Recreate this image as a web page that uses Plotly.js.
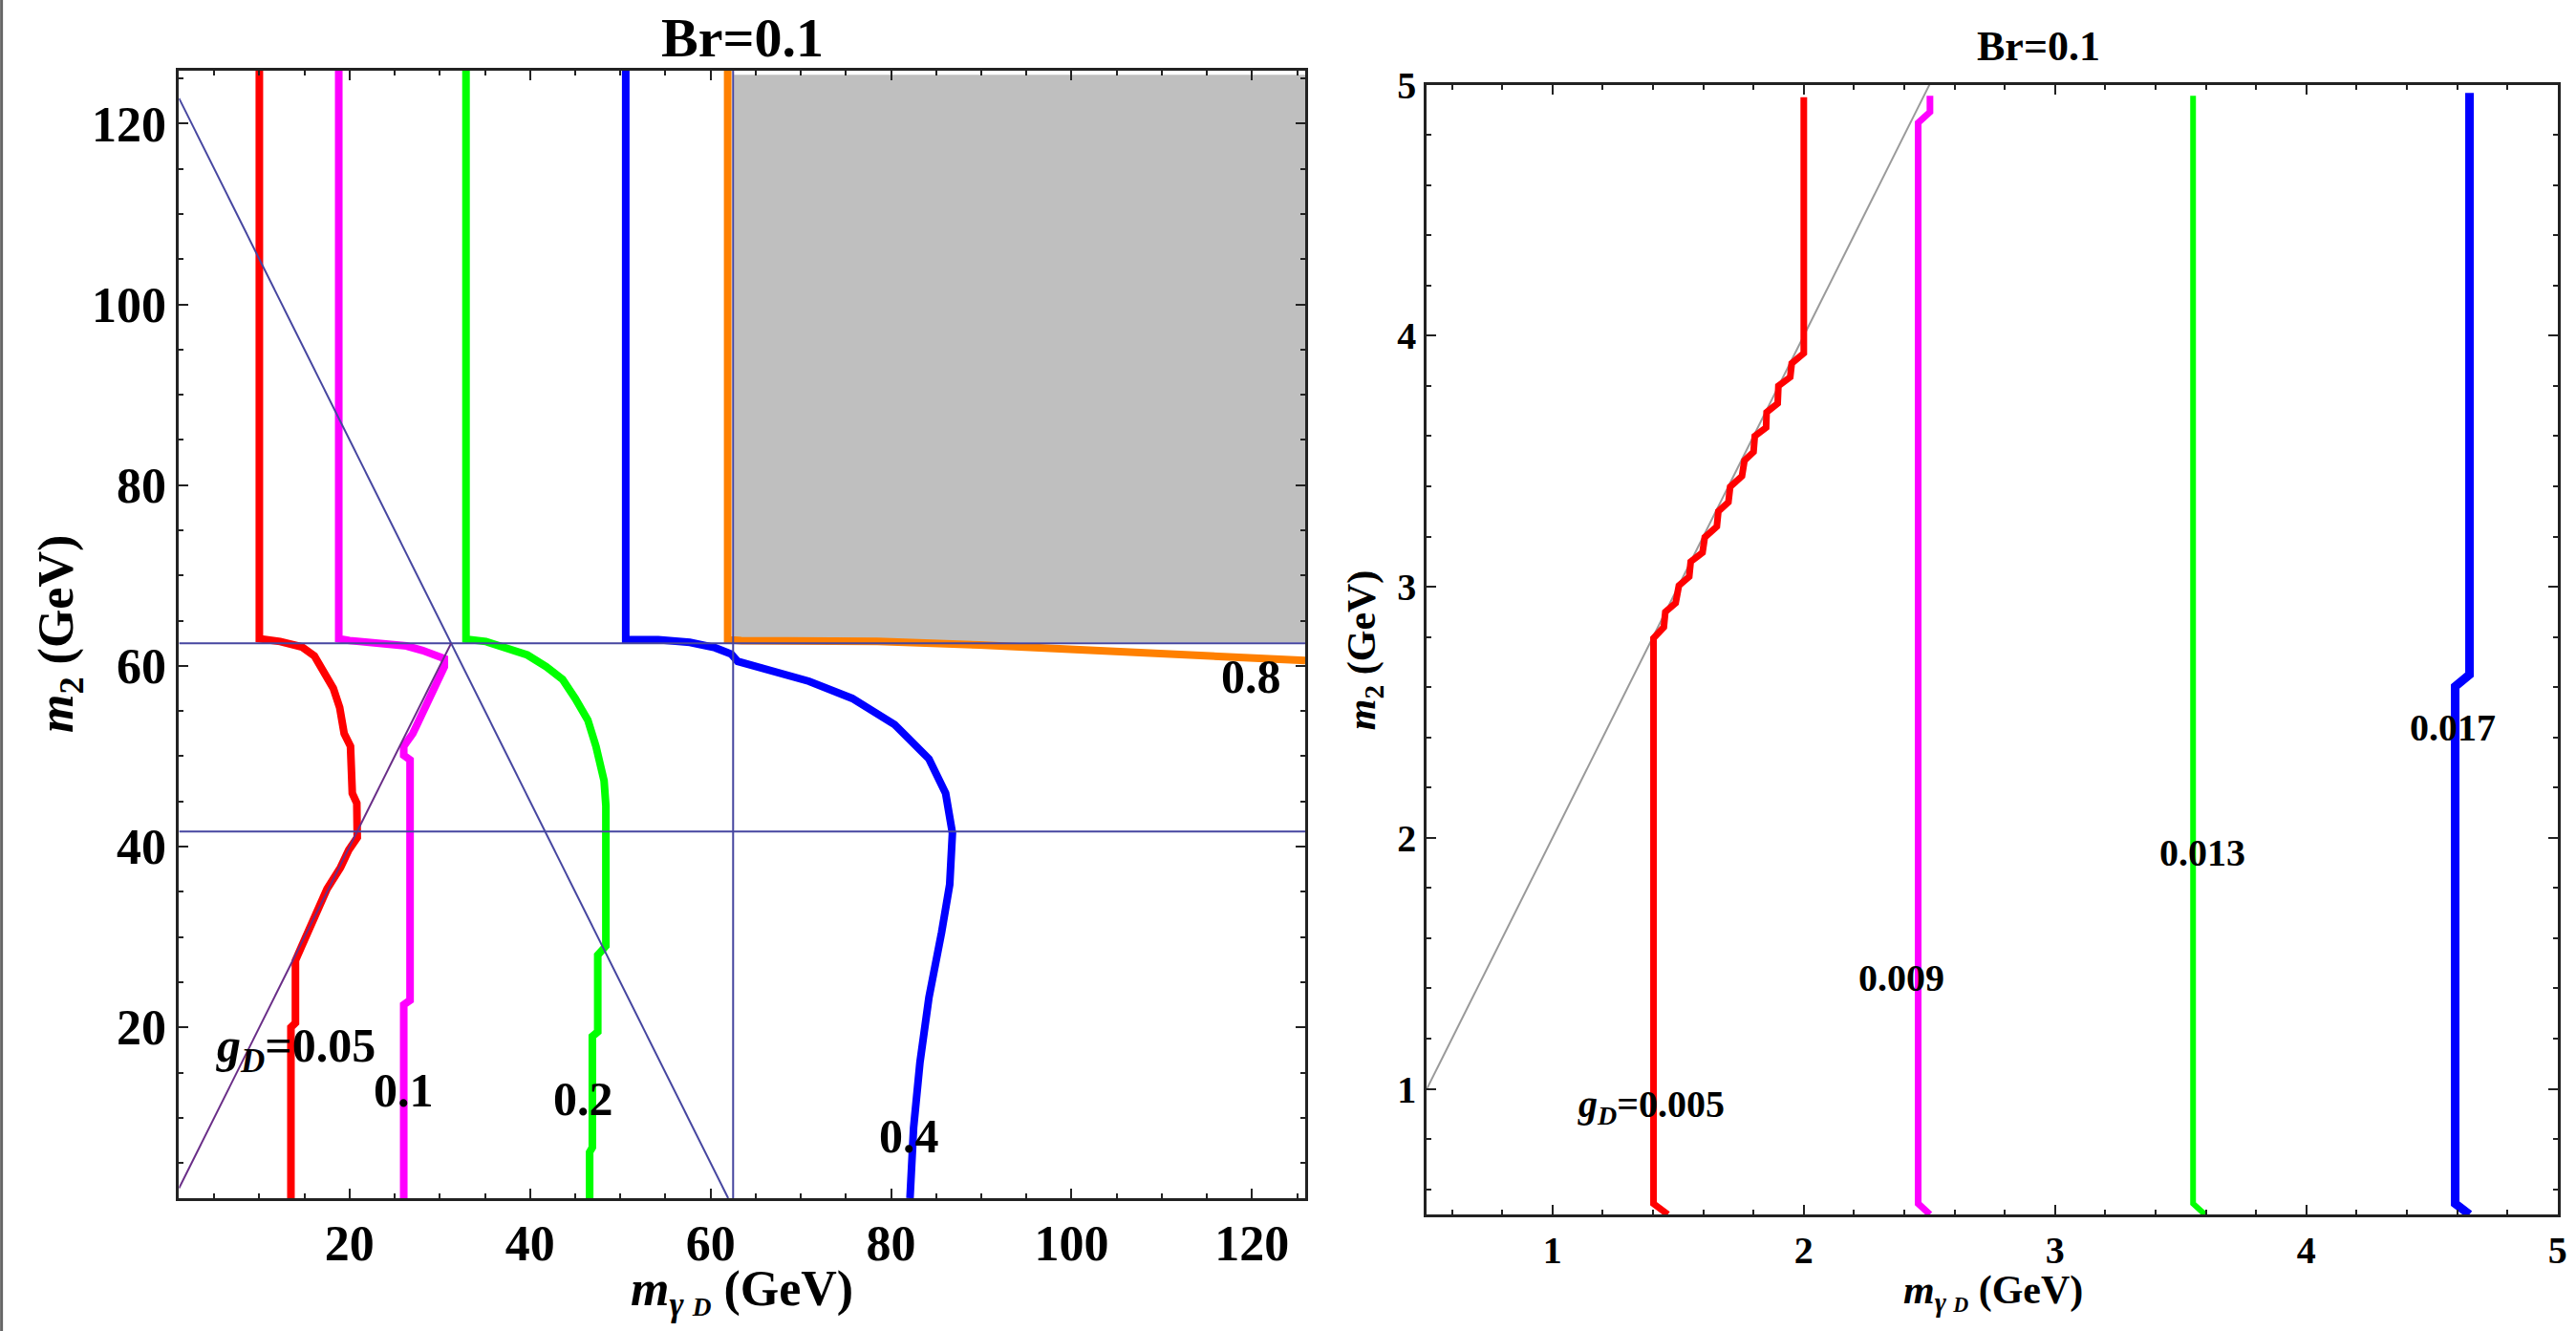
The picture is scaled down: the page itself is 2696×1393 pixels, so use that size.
<!DOCTYPE html>
<html>
<head>
<meta charset="utf-8">
<script src="https://cdn.plot.ly/plotly-3.0.1.min.js"></script>
<style>html,body{margin:0;padding:0;background:#fff;}#chart{width:2696px;height:1393px;}</style>
</head>
<body>
<div id="chart"></div>
<script>
// ---------- Left panel (GeV range) ----------
const gD005_x = [10.0, 10.0, 12.3, 14.7, 16.1, 17.1, 18.2, 18.9, 19.4, 20.1, 20.3, 20.8, 20.85, 20.85, 19.9, 19.0, 17.5, 16.1, 14.7, 14.0, 14.0, 13.5, 13.5];
const gD005_y = [125.9, 63.0, 62.7, 62.1, 61.1, 59.3, 57.5, 55.4, 52.5, 51.1, 45.9, 44.8, 42.0, 41.0, 39.6, 37.7, 35.3, 31.9, 29.0, 27.4, 20.5, 20.0, 1.1];
const gD01_x = [18.8, 18.8, 20.0, 23.1, 26.3, 28.1, 30.5, 30.5, 29.5, 28.1, 27.0, 26.0, 26.0, 26.7, 26.7, 26.0, 26.0];
const gD01_y = [125.9, 63.0, 62.8, 62.6, 62.2, 61.7, 60.8, 59.9, 57.8, 55.0, 52.5, 51.1, 50.1, 49.6, 23.0, 22.5, 1.1];
const gD02_x = [32.9, 32.9, 35.1, 37.6, 39.7, 41.8, 43.6, 45.0, 46.4, 47.3, 47.8, 48.2, 48.4, 48.4, 47.5, 47.5, 46.9, 46.9, 46.6, 46.6];
const gD02_y = [125.9, 62.95, 62.7, 62.0, 61.2, 59.9, 58.5, 56.4, 54.0, 51.1, 49.4, 47.3, 44.5, 29.0, 28.0, 19.5, 19.0, 6.7, 6.2, 1.1];
const gD04_x = [50.6, 50.6, 54.2, 57.7, 60.5, 62.3, 63.0, 65.1, 70.9, 75.7, 80.4, 84.2, 86.05, 86.8, 86.5, 85.6, 84.2, 83.2, 82.5, 82.1];
const gD04_y = [125.9, 62.9, 62.9, 62.6, 62.0, 61.3, 60.5, 59.9, 58.3, 56.4, 53.5, 49.7, 45.9, 41.5, 35.8, 30.5, 23.3, 16.1, 8.9, 1.1];
const gD08_x = [61.9, 61.9, 63.4, 78.5, 89.8, 99.3, 113.5, 125.9];
const gD08_y = [125.9, 62.9, 62.8, 62.7, 62.3, 61.8, 61.1, 60.6];

// excluded (gray) region
const excl_x = [62.6, 125.9, 125.9, 62.6, 62.6];
const excl_y = [62.6, 62.6, 125.4, 125.4, 62.6];

// reference lines (left)
const hHalf_x = [1.1, 125.9];   const hHalf_y = [62.5, 62.5];
const hThird_x = [1.1, 125.9];  const hThird_y = [41.67, 41.67];
const vHalf_x = [62.5, 62.5];   const vHalf_y = [1.1, 125.9];
const diagDown_x = [1.1, 61.95]; const diagDown_y = [122.8, 1.1];
const diagUp_x = [1.1, 31.25];  const diagUp_y = [2.2, 62.5];

const leftLabels = ['<i>g</i><sub><i>D</i></sub>=0.05', '0.1', '0.2', '0.4', '0.8'];
const leftLabel_x = [14.0, 26.0, 45.9, 82.0, 119.9];
const leftLabel_y = [17.6, 13.0, 12.1, 8.0, 58.8];

// ---------- Right panel (low mass range) ----------
const gD0005_x = [1.459, 1.402, 1.402, 1.443, 1.449, 1.49, 1.503, 1.544, 1.55, 1.597, 1.606, 1.654, 1.66, 1.70, 1.707, 1.754, 1.764, 1.80, 1.805, 1.85, 1.852, 1.896, 1.899, 1.946, 1.952, 2.0, 2.0];
const gD0005_y = [0.5, 0.543, 2.795, 2.839, 2.90, 2.935, 3.005, 3.04, 3.10, 3.136, 3.197, 3.24, 3.30, 3.337, 3.398, 3.441, 3.503, 3.537, 3.60, 3.634, 3.695, 3.73, 3.80, 3.835, 3.89, 3.93, 4.95];
const gD0009_x = [2.502, 2.455, 2.455, 2.502, 2.502];
const gD0009_y = [0.5, 0.543, 4.848, 4.891, 4.956];
const gD0013_x = [3.596, 3.549, 3.549];
const gD0013_y = [0.5, 0.543, 4.956];
const gD0017_x = [4.649, 4.592, 4.592, 4.649, 4.649];
const gD0017_y = [0.5, 0.543, 2.603, 2.65, 4.967];
const diagR_x = [0.5, 2.5];
const diagR_y = [1.0, 5.0];

const rightLabels = ['<i>g</i><sub><i>D</i></sub>=0.005', '0.009', '0.013', '0.017'];
const rightLabel_x = [1.394, 2.387, 3.587, 4.582];
const rightLabel_y = [0.93, 1.44, 1.94, 2.44];

const titleText = 'Br=0.1';
const xTitleText = '<i>m</i><sub><i>γ</i> <span style="font-size:75%"><i>D</i></span></sub> (GeV)';
const yTitleText = '<i>m</i><sub>2</sub> (GeV)';

// ---------- build ----------
const FONT = 'Liberation Serif, Times New Roman, serif';
function line(x, y, color, width, xa, ya) {
  return {type: 'scatter', mode: 'lines', x: x, y: y, xaxis: xa, yaxis: ya,
    line: {color: color, width: width}, hoverinfo: 'skip', showlegend: false};
}
const NAVY = 'rgb(70,70,160)';
const traces = [
  {type: 'scatter', mode: 'lines', x: excl_x, y: excl_y, fill: 'toself', fillcolor: '#bfbfbf',
   line: {width: 0, color: '#bfbfbf'}, hoverinfo: 'skip', showlegend: false, xaxis: 'x', yaxis: 'y'},
  line(gD005_x, gD005_y, '#ff0000', 8, 'x', 'y'),
  line(gD01_x, gD01_y, '#ff00ff', 8, 'x', 'y'),
  line(gD02_x, gD02_y, '#00ff00', 8, 'x', 'y'),
  line(gD04_x, gD04_y, '#0000ff', 8, 'x', 'y'),
  line(gD08_x, gD08_y, '#ff8000', 8, 'x', 'y'),
  line(hHalf_x, hHalf_y, NAVY, 2, 'x', 'y'),
  line(hThird_x, hThird_y, NAVY, 2, 'x', 'y'),
  line(vHalf_x, vHalf_y, NAVY, 2, 'x', 'y'),
  line(diagDown_x, diagDown_y, NAVY, 2, 'x', 'y'),
  line(diagUp_x, diagUp_y, 'rgb(105,45,135)', 2, 'x', 'y'),
  line(diagR_x, diagR_y, '#9a9a9a', 2, 'x2', 'y2'),
  line(gD0005_x, gD0005_y, '#ff0000', 7, 'x2', 'y2'),
  line(gD0009_x, gD0009_y, '#ff00ff', 7, 'x2', 'y2'),
  line(gD0013_x, gD0013_y, '#00ff00', 6, 'x2', 'y2'),
  line(gD0017_x, gD0017_y, '#0000ff', 9, 'x2', 'y2')
];

function axis(domain, range, dtick, mdtick, anchor, fsize) {
  return {domain: domain, range: range, anchor: anchor, tick0: 0, dtick: dtick,
    ticks: 'inside', ticklen: 10, tickwidth: 2, tickcolor: '#222',
    showline: true, linewidth: 3, linecolor: '#222', mirror: 'allticks',
    showgrid: false, zeroline: false, automargin: false,
    tickfont: {family: FONT, size: fsize, color: '#000', weight: 'bold'},
    minor: {ticks: 'inside', dtick: mdtick, tick0: 0, ticklen: 5, tickwidth: 2, tickcolor: '#222', showgrid: false}};
}

const annotations = [];
function ann(text, x, y, size, extra) {
  annotations.push(Object.assign({text: '<b>' + text + '</b>', x: x, y: y, xref: 'paper', yref: 'paper',
    showarrow: false, xanchor: 'center', yanchor: 'middle',
    font: {family: FONT, size: size, color: '#000'}}, extra || {}));
}
ann(titleText, 0.2882, 0.972, 58);
ann(titleText, 0.7912, 0.9655, 44);
ann(xTitleText, 0.2882, 0.029, 52);
ann(yTitleText, 0.023, 0.5233, 52, {textangle: -90});
ann(xTitleText, 0.7737, 0.029, 42);
ann(yTitleText, 0.5297, 0.5118, 42, {textangle: -90});
leftLabels.forEach((t, i) => ann(t, leftLabel_x[i], leftLabel_y[i], 50, {xref: 'x', yref: 'y'}));
rightLabels.forEach((t, i) => ann(t, rightLabel_x[i], rightLabel_y[i], 40, {xref: 'x2', yref: 'y2'}));

const layout = {
  width: 2696, height: 1393,
  margin: {l: 0, r: 0, t: 0, b: 0},
  paper_bgcolor: '#fff', plot_bgcolor: '#fff',
  showlegend: false,
  xaxis: axis([0.0695, 0.5067], [1.1, 125.9], 20, 5, 'y', 52),
  yaxis: axis([0.0998, 0.9472], [1.1, 125.9], 20, 5, 'x', 52),
  xaxis2: axis([0.5539, 0.9929], [0.5, 5], 1, 0.2, 'y2', 40),
  yaxis2: axis([0.0876, 0.9364], [0.5, 5], 1, 0.2, 'x2', 40),
  annotations: annotations,
  shapes: [{type: 'line', xref: 'paper', yref: 'paper', x0: 0.0006, x1: 0.0006, y0: 0, y1: 1,
            line: {color: '#666', width: 3}}]
};

Plotly.newPlot('chart', traces, layout, {displayModeBar: false, staticPlot: true});
</script>
</body>
</html>
